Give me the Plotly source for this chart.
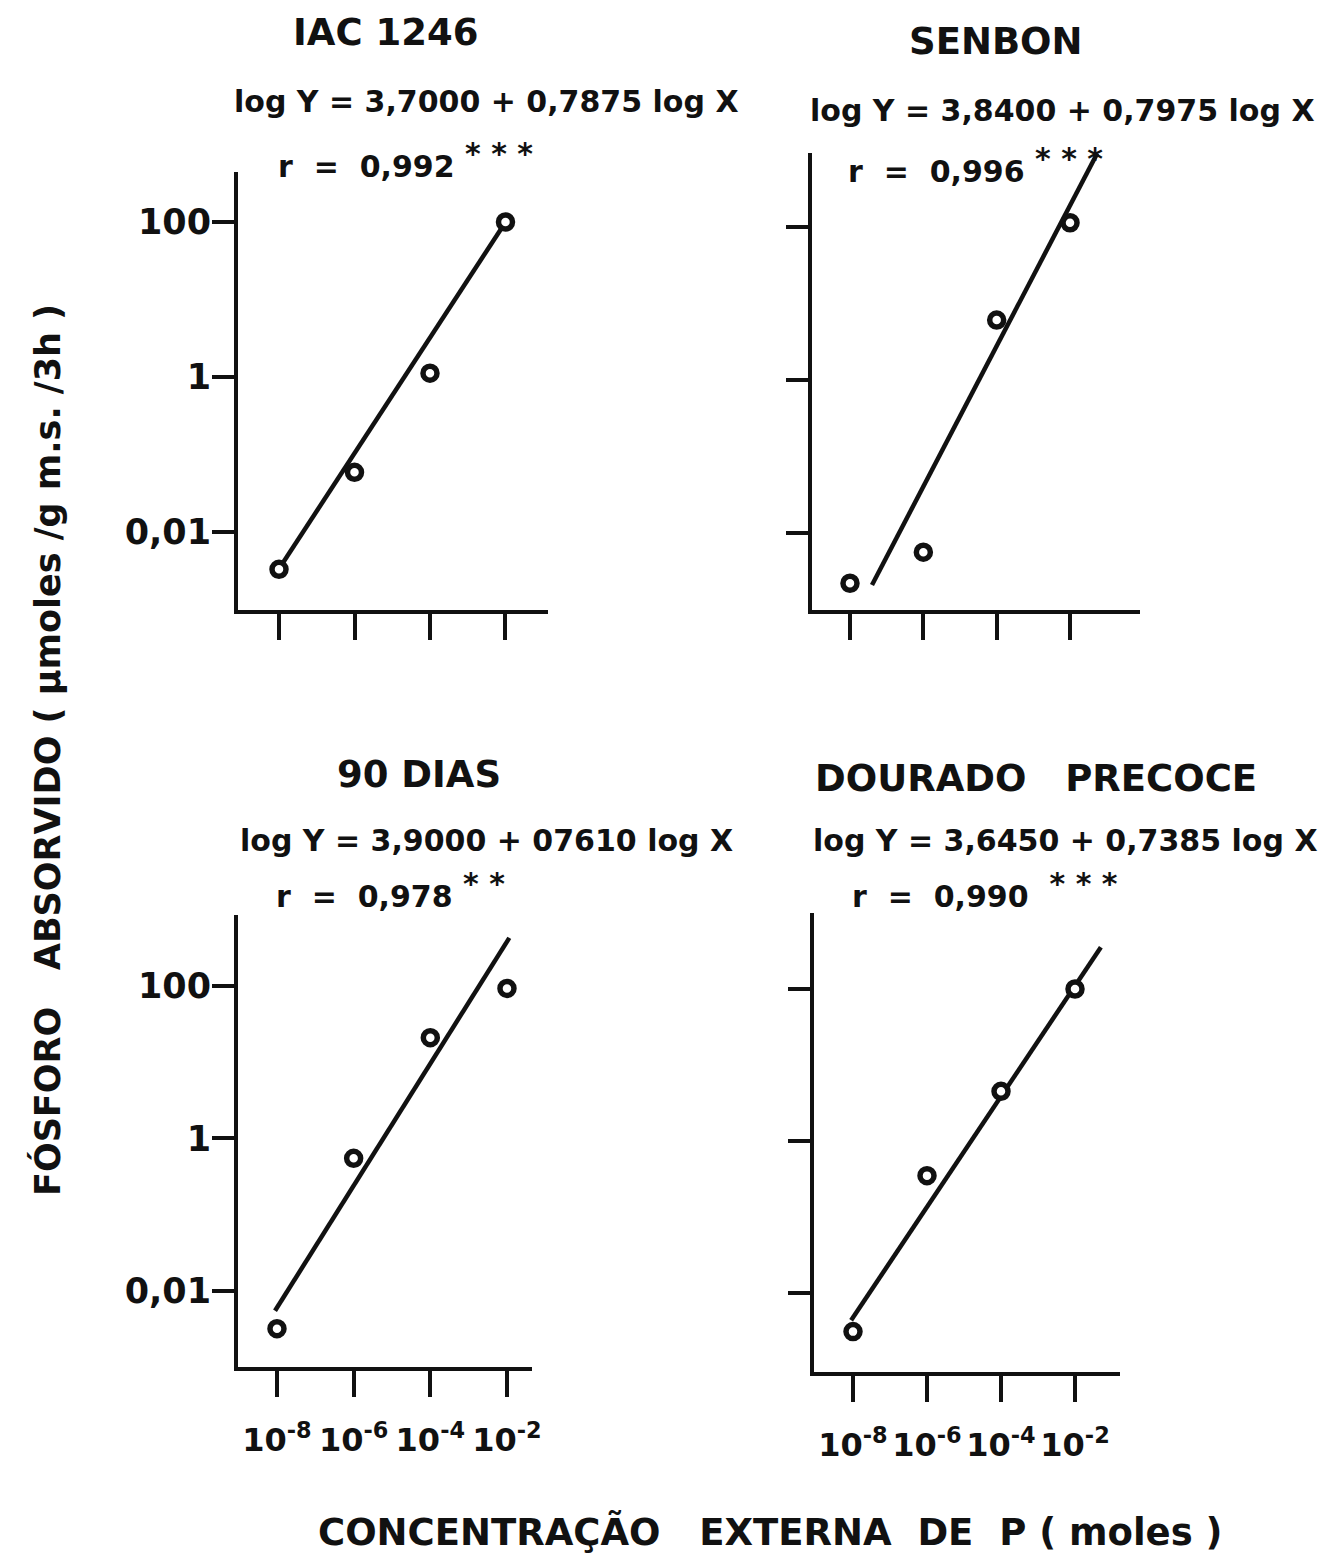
import plotly.graph_objects as go

# ---------------- data ----------------
conc = [1e-8, 1e-6, 1e-4, 1e-2]          # external P concentration (moles)
conc_ticktext = ["10<sup>-8</sup>", "10<sup>-6</sup>", "10<sup>-4</sup>", "10<sup>-2</sup>"]
abs_tickvals = [0.01, 1, 100]
abs_ticktext = ["0,01", "1", "100"]

iac_vals = [0.0033, 0.059, 1.12, 100]
senbon_vals = [0.0022, 0.0056, 6.0, 112]
dias_vals = [0.0032, 0.55, 21, 93]
dourado_vals = [0.0031, 0.35, 4.5, 100]

# fitted regression lines as drawn (end points)
iac_fit_x = [1.26e-8, 1.17e-2]
iac_fit_y = [3.98e-3, 112]
senbon_fit_x = [3.98e-8, 5.5e-2]
senbon_fit_y = [2.09e-3, 900]
dias_fit_x = [8.9e-9, 1.15e-2]
dias_fit_y = [5.5e-3, 427]
dourado_fit_x = [8.9e-9, 5.0e-2]
dourado_fit_y = [4.37e-3, 355]

titles = ["IAC 1246", "SENBON", "90 DIAS", "DOURADO   PRECOCE"]
equations = [
    "log Y = 3,7000 + 0,7875 log X",
    "log Y = 3,8400 + 0,7975 log X",
    "log Y = 3,9000 + 07610 log X",
    "log Y = 3,6450 + 0,7385 log X",
]
r_values = ["r  =  0,992", "r  =  0,996", "r  =  0,978", "r  =  0,990"]
r_signif = [" * * *", " * * *", " * *", "  * * *"]
y_title = "F\u00d3SFORO   ABSORVIDO ( \u00b5moles /g m.s. /3h )"
x_title = "CONCENTRA\u00c7\u00c3O   EXTERNA  DE  P ( moles )"

# ---------------- layout (pixels) ----------------
W, H = 1340, 1568
FONT = "DejaVu Sans"
INK = "#111111"

# panel boxes: left, right, top, bottom (px) and log10 ranges
panels = [
    dict(box=(238, 548, 172, 610), xr=(-9.086, -0.874), yr=(-3.006, 2.645), xl=False, yl=True),
    dict(box=(812, 1140, 153, 610), xr=(-9.036, -0.092), yr=(-3.007, 2.96), xl=False, yl=False),
    dict(box=(238, 532, 915, 1367), xr=(-9.017, -1.347), yr=(-2.997, 2.931), xl=True, yl=True),
    dict(box=(814, 1120, 913, 1372), xr=(-9.054, -0.784), yr=(-3.04, 3.0), xl=True, yl=False),
]
series = [
    (iac_vals, iac_fit_x, iac_fit_y),
    (senbon_vals, senbon_fit_x, senbon_fit_y),
    (dias_vals, dias_fit_x, dias_fit_y),
    (dourado_vals, dourado_fit_x, dourado_fit_y),
]

fig = go.Figure()
layout = dict(
    width=W, height=H,
    margin=dict(l=0, r=0, t=0, b=0),
    paper_bgcolor="white", plot_bgcolor="white",
    showlegend=False,
    font=dict(family=FONT, color=INK),
)

for i, (p, (vals, fx, fy)) in enumerate(zip(panels, series)):
    n = "" if i == 0 else str(i + 1)
    xa, ya = "x" + n, "y" + n
    l, r, t, b = p["box"]
    fig.add_trace(go.Scatter(x=fx, y=fy, mode="lines", xaxis=xa, yaxis=ya,
                             line=dict(color=INK, width=4.5), hoverinfo="skip"))
    fig.add_trace(go.Scatter(x=conc, y=vals, mode="markers", xaxis=xa, yaxis=ya,
                             cliponaxis=False,
                             marker=dict(symbol="circle", size=14, color="white",
                                         line=dict(color=INK, width=5.5))))
    layout["xaxis" + n] = dict(
        type="log", domain=[l / W, r / W], range=list(p["xr"]), anchor=ya,
        automargin=False, tickangle=0,
        showgrid=False, zeroline=False, showline=True, linecolor=INK, linewidth=4,
        ticks="outside", ticklen=26, tickwidth=4, tickcolor=INK,
        tickvals=conc, ticktext=conc_ticktext, showticklabels=p["xl"],
        tickfont=dict(size=32, family=FONT, color=INK, weight="bold"), ticklabelstandoff=16,
    )
    layout["yaxis" + n] = dict(
        type="log", domain=[1 - b / H, 1 - t / H], range=list(p["yr"]), anchor=xa,
        automargin=False,
        showgrid=False, zeroline=False, showline=True, linecolor=INK, linewidth=4,
        ticks="outside", ticklen=22, tickwidth=4, tickcolor=INK,
        tickvals=abs_tickvals, ticktext=abs_ticktext, showticklabels=p["yl"],
        tickfont=dict(size=35, family=FONT, color=INK, weight="bold"), ticklabelstandoff=-6,
    )

fig.update_layout(**layout)

# text positions (px centres)
title_pos = [(385, 33), (996, 41), (419, 774), (1036, 778)]
eq_pos = [(486, 102), (1062, 110), (486, 841), (1065, 841)]
r_pos = [(405, 160), (975, 165), (390, 890), (985, 890)]

for txt, (x, y) in zip(titles, title_pos):
    fig.add_annotation(text=txt, x=x / W, y=1 - y / H, xref="paper", yref="paper",
                       showarrow=False, xanchor="center", yanchor="middle",
                       font=dict(size=37, family=FONT, color=INK, weight="bold"))
for txt, (x, y) in zip(equations, eq_pos):
    fig.add_annotation(text=txt, x=x / W, y=1 - y / H, xref="paper", yref="paper",
                       showarrow=False, xanchor="center", yanchor="middle",
                       font=dict(size=30, family=FONT, color=INK, weight="bold"))
for rv, rs, (x, y) in zip(r_values, r_signif, r_pos):
    txt = rv + "<sup><span style='font-size:30px'>" + rs + "</span></sup>"
    fig.add_annotation(text=txt, x=x / W, y=1 - y / H, xref="paper", yref="paper",
                       showarrow=False, xanchor="center", yanchor="middle",
                       font=dict(size=30, family=FONT, color=INK, weight="bold"))

fig.add_annotation(text=y_title, x=47 / W, y=1 - 750 / H, xref="paper", yref="paper",
                   showarrow=False, textangle=-90, xanchor="center", yanchor="middle",
                   font=dict(size=35, family=FONT, color=INK, weight="bold"))
fig.add_annotation(text=x_title, x=770 / W, y=1 - 1532 / H, xref="paper", yref="paper",
                   showarrow=False, xanchor="center", yanchor="middle",
                   font=dict(size=37, family=FONT, color=INK, weight="bold"))

fig.write_html("out.html")
